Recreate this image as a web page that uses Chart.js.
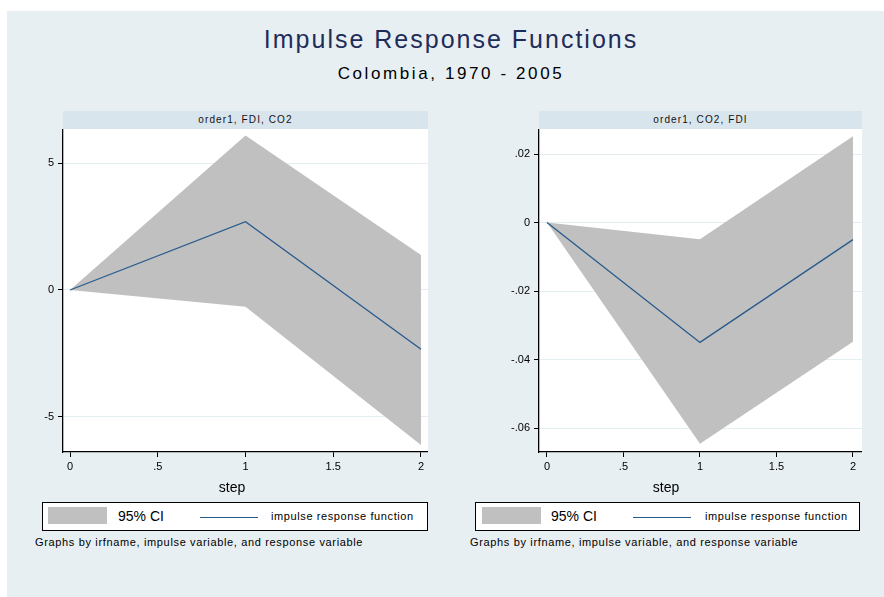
<!DOCTYPE html>
<html>
<head>
<meta charset="utf-8">
<script src="https://cdn.jsdelivr.net/npm/chart.js@4/dist/chart.umd.min.js"></script>
<style>
  html, body { margin: 0; padding: 0; background: #ffffff; }
  body { width: 884px; height: 597px; position: relative; overflow: hidden; font-family: "Liberation Sans", Arial, sans-serif; }
  .bg { position: absolute; left: 7px; top: 11px; width: 877px; height: 586px; background: #e8eff2; }
  .abs { position: absolute; white-space: nowrap; }
  .title { left: 0; width: 902px; text-align: center; top: 27px; font-size: 25px; line-height: 25px; color: #1e2c5a; letter-spacing: 2px; }
  .subtitle { left: 0; width: 902px; text-align: center; top: 65px; font-size: 17px; line-height: 17px; color: #000; letter-spacing: 2.6px; }
  .strip { background: #d9e5ec; height: 18px; top: 111px; text-align: center; font-size: 10px; line-height: 18px; letter-spacing: 1.1px; color: #111; }
  canvas { position: absolute; }
  .step { top: 479px; font-size: 14px; line-height: 16px; color: #000; text-align: center; width: 60px; }
  .legend { top: 502px; height: 27px; background: #fff; border: 1px solid #000; }
  .swatch { position: absolute; top: 4px; height: 17px; width: 59px; background: #c0c0c0; }
  .ci { position: absolute; top: 5px; font-size: 14px; line-height: 16px; color: #000; }
  .lsw { position: absolute; top: 14px; height: 1px; width: 58px; background: #285a8c; }
  .irf { position: absolute; top: 7px; font-size: 11px; line-height: 13px; color: #000; letter-spacing: 0.6px; }
  .note { top: 536px; font-size: 11px; line-height: 13px; color: #000; letter-spacing: 0.65px; }
</style>
</head>
<body>
<div class="bg"></div>
<div class="abs title">Impulse Response Functions</div>
<div class="abs subtitle">Colombia, 1970 - 2005</div>

<div class="abs strip" style="left:63px; width:365px;">order1, FDI, CO2</div>
<div class="abs strip" style="left:539px; width:323px;">order1, CO2, FDI</div>

<canvas id="c1" width="428" height="353" style="left:0px; top:129px;"></canvas>
<canvas id="c2" width="422" height="353" style="left:440px; top:129px;"></canvas>

<div class="abs step" style="left:202px;">step</div>
<div class="abs step" style="left:636px;">step</div>

<div class="abs legend" style="left:42px; width:384px;">
  <div class="swatch" style="left:5px;"></div>
  <div class="ci" style="left:75px;">95% CI</div>
  <div class="lsw" style="left:157px;"></div>
  <div class="irf" style="left:228px;">impulse response function</div>
</div>
<div class="abs legend" style="left:475px; width:383px;">
  <div class="swatch" style="left:6px;"></div>
  <div class="ci" style="left:75px;">95% CI</div>
  <div class="lsw" style="left:157px;"></div>
  <div class="irf" style="left:229px;">impulse response function</div>
</div>

<div class="abs note" style="left:35px;">Graphs by irfname, impulse variable, and response variable</div>
<div class="abs note" style="left:470px;">Graphs by irfname, impulse variable, and response variable</div>

<script>
// ---- data ----
const steps = [0, 1, 2];

const fdiCo2Irf   = [0, 2.69, -2.33];
const fdiCo2Lower = [0, -0.66, -6.10];
const fdiCo2Upper = [0, 6.08, 1.38];

const co2FdiIrf   = [0, -0.0350, -0.0050];
const co2FdiLower = [0, -0.0646, -0.0348];
const co2FdiUpper = [0, -0.0049, 0.0252];

const xTicks = [0, 0.5, 1, 1.5, 2];
const xTickLabels = ['0', '.5', '1', '1.5', '2'];

const leftYTicks = [-5, 0, 5];
const leftYTickLabels = ['-5', '0', '5'];

const rightYTicks = [-0.06, -0.04, -0.02, 0, 0.02];
const rightYTickLabels = ['-.06', '-.04', '-.02', '0', '.02'];

const ciLabel = '95% CI';
const irfLabel = 'impulse response function';

// ---- chart building ----
Chart.defaults.font.family = '"Liberation Sans", Arial, sans-serif';

const plotBg = {
  id: 'plotBg',
  beforeDraw(chart) {
    const a = chart.chartArea, ctx = chart.ctx;
    ctx.save();
    ctx.fillStyle = '#ffffff';
    ctx.fillRect(a.left, a.top, a.right - a.left, a.bottom - a.top);
    ctx.restore();
  }
};

function pts(ys) { return steps.map((s, i) => ({ x: s, y: ys[i] })); }

function makeChart(id, irf, lo, hi, yTicks, yLabels, yMin, yMax, xMin, xMax, yAxisWidth) {
  return new Chart(document.getElementById(id), {
    type: 'line',
    data: {
      datasets: [
        { label: ciLabel + ' lower', data: pts(lo), borderWidth: 0, borderColor: 'rgba(0,0,0,0)', pointRadius: 0, fill: false, order: 2, tension: 0 },
        { label: ciLabel, data: pts(hi), borderWidth: 0, borderColor: 'rgba(0,0,0,0)', backgroundColor: '#c0c0c0', pointRadius: 0, fill: '-1', order: 1, tension: 0 },
        { label: irfLabel, data: pts(irf), borderWidth: 1.3, borderColor: '#285a8c', pointRadius: 0, fill: false, order: 0, tension: 0 }
      ]
    },
    options: {
      responsive: false,
      animation: false,
      devicePixelRatio: 1,
      layout: { padding: 0 },
      plugins: { legend: { display: false }, tooltip: { enabled: false }, title: { display: false } },
      scales: {
        x: {
          type: 'linear', min: xMin, max: xMax,
          afterBuildTicks: s => { s.ticks = xTicks.map(v => ({ value: v })); },
          afterFit: s => { s.height = 30; s.paddingLeft = 0; s.paddingRight = 0; },
          ticks: { autoSkip: false, maxRotation: 0, padding: 3, color: '#000', font: { size: 11 }, callback: (v, i) => xTickLabels[i] },
          grid: { drawOnChartArea: false, drawTicks: true, tickLength: 5, tickColor: '#000', tickWidth: 1 },
          border: { display: true, color: '#000', width: 1.3 }
        },
        y: {
          type: 'linear', min: yMin, max: yMax,
          afterBuildTicks: s => { s.ticks = yTicks.map(v => ({ value: v })); },
          afterFit: s => { s.width = yAxisWidth; s.paddingTop = 0; s.paddingBottom = 0; },
          ticks: { autoSkip: false, padding: 4, color: '#000', font: { size: 11 }, callback: (v, i) => yLabels[i] },
          grid: { color: '#e4eef0', lineWidth: 1, drawTicks: true, tickLength: 5, tickColor: '#000', tickWidth: 1 },
          border: { display: true, color: '#000', width: 1.3 }
        }
      }
    },
    plugins: [plotBg]
  });
}

makeChart('c1', fdiCo2Irf, fdiCo2Lower, fdiCo2Upper, leftYTicks, leftYTickLabels, -6.38, 6.34, -0.04, 2.04, 63);
makeChart('c2', co2FdiIrf, co2FdiLower, co2FdiUpper, rightYTicks, rightYTickLabels, -0.067, 0.0273, -0.052, 2.059, 99);
</script>
</body>
</html>
